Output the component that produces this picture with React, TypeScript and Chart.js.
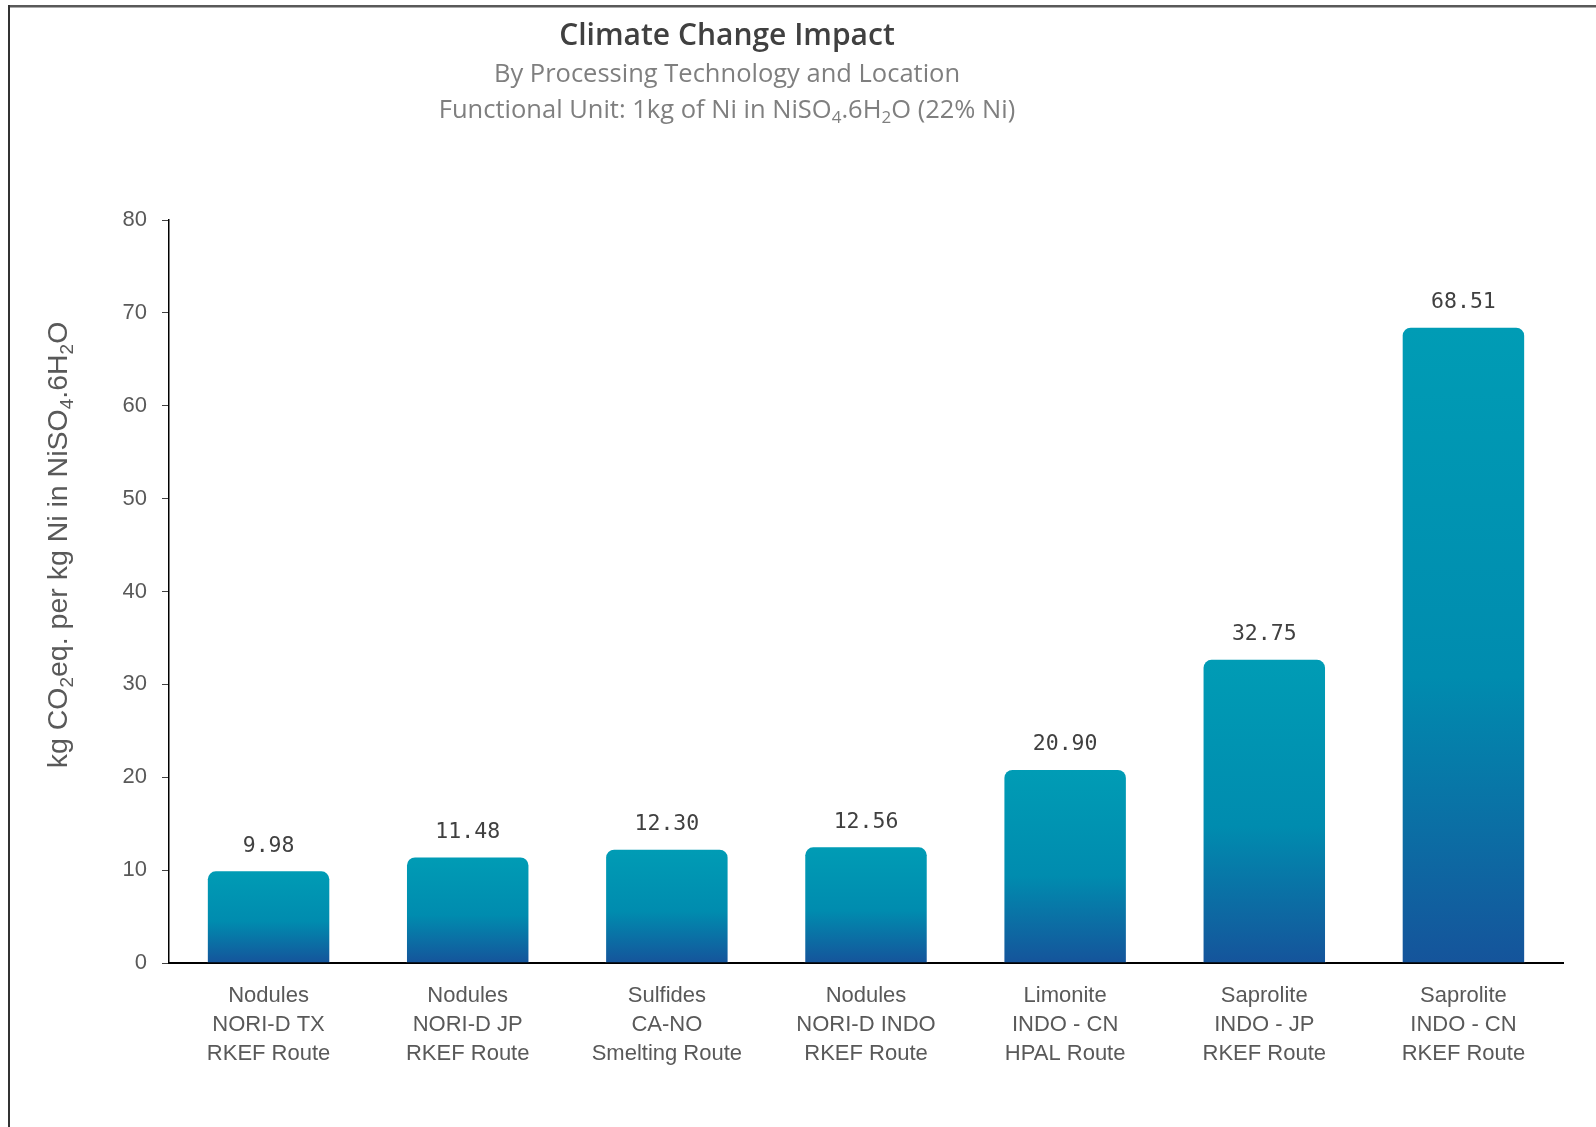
import React, { useEffect, useRef } from "react";
import { Chart, registerables } from "chart.js";

Chart.register(...registerables);

const categories: string[][] = [
  ["Nodules", "NORI-D TX", "RKEF Route"],
  ["Nodules", "NORI-D JP", "RKEF Route"],
  ["Sulfides", "CA-NO", "Smelting Route"],
  ["Nodules", "NORI-D INDO", "RKEF Route"],
  ["Limonite", "INDO - CN", "HPAL Route"],
  ["Saprolite", "INDO - JP", "RKEF Route"],
  ["Saprolite", "INDO - CN", "RKEF Route"],
];

const climateImpact: number[] = [9.98, 11.48, 12.3, 12.56, 20.9, 32.75, 68.51];

const yTicks: number[] = [0, 10, 20, 30, 40, 50, 60, 70, 80];

type Seg = { t: string; sub?: boolean };

const titleLine: Seg[] = [{ t: "Climate Change Impact" }];
const subtitleLine: Seg[] = [{ t: "By Processing Technology and Location" }];
const unitLine: Seg[] = [
  { t: "Functional Unit: 1kg of Ni in NiSO" },
  { t: "4", sub: true },
  { t: ".6H" },
  { t: "2", sub: true },
  { t: "O (22% Ni)" },
];
const yTitle: Seg[] = [
  { t: "kg CO" },
  { t: "2", sub: true },
  { t: "eq. per kg Ni in NiSO" },
  { t: "4", sub: true },
  { t: ".6H" },
  { t: "2", sub: true },
  { t: "O" },
];

// Draws a line of text with subscripts, centred horizontally on x, middle-aligned on y.
function drawRich(
  ctx: CanvasRenderingContext2D,
  segs: Seg[],
  x: number,
  y: number,
  size: number,
  family: string,
  weight: string,
  color: string
) {
  const subSize = Math.round(size * 0.68);
  const fontFor = (s: Seg) => `${weight} ${s.sub ? subSize : size}px ${family}`;
  let total = 0;
  const widths = segs.map((s) => {
    ctx.font = fontFor(s);
    const w = ctx.measureText(s.t).width;
    total += w;
    return w;
  });
  let cx = x - total / 2;
  ctx.fillStyle = color;
  ctx.textAlign = "left";
  ctx.textBaseline = "alphabetic";
  const base = y + size * 0.35;
  segs.forEach((s, i) => {
    ctx.font = fontFor(s);
    ctx.fillText(s.t, cx, s.sub ? base + size * 0.2 : base);
    cx += widths[i];
  });
}

const decorPlugin = {
  id: "decor",
  beforeDraw(chart: any) {
    const ctx = chart.ctx as CanvasRenderingContext2D;
    ctx.save();
    ctx.fillStyle = "#ffffff";
    ctx.fillRect(0, 0, chart.width, chart.height);
    // frame: top and left edges
    ctx.fillStyle = "#595959";
    ctx.fillRect(8, 5, chart.width - 8, 2.5);
    ctx.fillStyle = "#333333";
    ctx.fillRect(8, 5, 2, chart.height - 5);
    ctx.restore();
  },
  afterDraw(chart: any) {
    const ctx = chart.ctx as CanvasRenderingContext2D;
    ctx.save();
    const fam = "'Open Sans', 'Noto Sans', sans-serif";
    drawRich(ctx, titleLine, 727, 34, 30, fam, "600", "#404040");
    drawRich(ctx, subtitleLine, 727, 73, 25.5, fam, "400", "#7f7f7f");
    drawRich(ctx, unitLine, 727, 109, 25.5, fam, "400", "#7f7f7f");

    ctx.translate(57, 545);
    ctx.rotate(-Math.PI / 2);
    drawRich(ctx, yTitle, 0, 0, 28.5, "'Liberation Sans', Arial, sans-serif", "400", "#595959");
    ctx.restore();

    // value labels above each bar
    const meta = chart.getDatasetMeta(0);
    ctx.save();
    ctx.font = "21.5px 'DejaVu Sans Mono', monospace";
    ctx.fillStyle = "#404040";
    ctx.textAlign = "center";
    ctx.textBaseline = "middle";
    meta.data.forEach((bar: any, i: number) => {
      const v = chart.data.datasets[0].data[i] as number;
      ctx.fillText(v.toFixed(2), bar.x, bar.y - 24);
    });
    ctx.restore();
  },
};

export default function App() {
  const canvasRef = useRef<HTMLCanvasElement | null>(null);

  useEffect(() => {
    const canvas = canvasRef.current;
    if (!canvas) return;
    const chart = new Chart(canvas, {
      type: "bar",
      data: {
        labels: categories,
        datasets: [
          {
            data: climateImpact,
            backgroundColor: (c: any) => {
              const chart = c.chart;
              const { ctx, chartArea, scales } = chart;
              if (!chartArea || c.type !== "data" || !scales.y) return "#008db0";
              const top = scales.y.getPixelForValue(c.raw as number);
              const base = scales.y.getPixelForValue(0);
              const g = ctx.createLinearGradient(0, top, 0, base);
              g.addColorStop(0, "#009cb5");
              g.addColorStop(0.55, "#008caf");
              g.addColorStop(1, "#15549b");
              return g;
            },
            borderColor: "rgba(255,255,255,0.35)",
            borderWidth: 1,
            borderSkipped: "bottom",
            borderRadius: 9,
            barPercentage: 0.62,
            categoryPercentage: 1,
          },
        ],
      },
      options: {
        responsive: false,
        animation: false,
        devicePixelRatio: 1,
        layout: { padding: { left: 0, top: 220, right: 33, bottom: 0 } },
        plugins: {
          legend: { display: false },
          title: { display: false },
          tooltip: { enabled: false },
        },
        scales: {
          x: {
            grid: { display: false },
            border: { display: true, color: "#000000", width: 2 },
            ticks: {
              color: "#595959",
              font: { family: "'Liberation Sans', Arial, sans-serif", size: 22, lineHeight: 1.32 },
              padding: 10,
              maxRotation: 0,
              autoSkip: false,
            },
            afterFit: (s: any) => {
              s.height = 164;
            },
          },
          y: {
            min: 0,
            max: 80,
            afterBuildTicks: (s: any) => {
              s.ticks = yTicks.map((v) => ({ value: v }));
            },
            grid: {
              drawOnChartArea: false,
              drawTicks: true,
              tickLength: 7,
              color: "#404040",
            },
            border: { display: true, color: "#000000", width: 1.5 },
            ticks: {
              color: "#595959",
              font: { family: "'Liberation Sans', Arial, sans-serif", size: 22 },
              padding: 15,
            },
            afterFit: (s: any) => {
              s.width = 169;
            },
          },
        },
      },
      plugins: [decorPlugin],
    });
    return () => chart.destroy();
  }, []);

  return (
    <div
      style={{
        position: "absolute",
        left: 0,
        top: 0,
        width: 1596,
        height: 1127,
        background: "#ffffff",
      }}
    >
      <canvas ref={canvasRef} width={1596} height={1127} style={{ display: "block" }} />
    </div>
  );
}
